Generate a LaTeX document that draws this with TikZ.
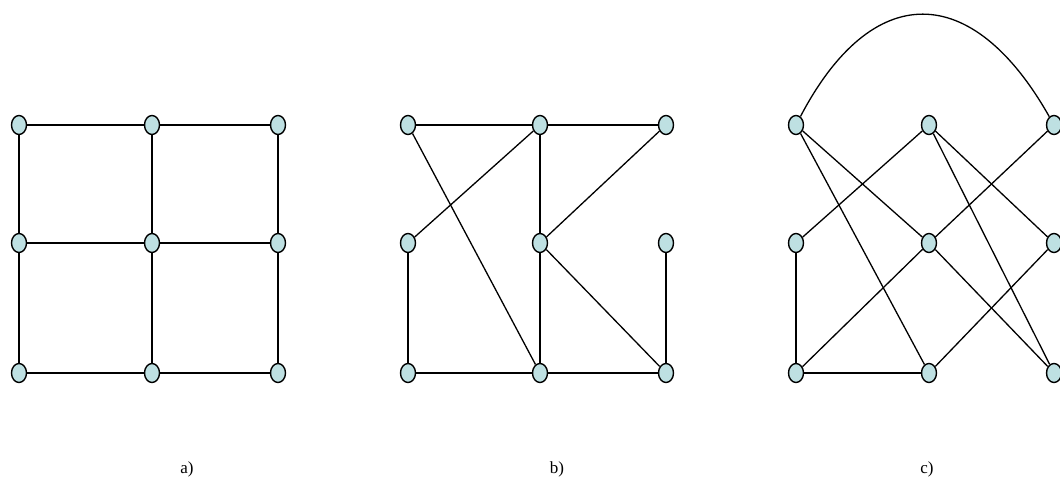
\documentclass[tikz,border=0pt]{standalone}
\usepackage{fontspec}
\setmainfont{Liberation Serif}
\usetikzlibrary{shapes.geometric}
\definecolor{vertexfill}{HTML}{BEE0E2}

\begin{document}
\begin{tikzpicture}[
  x=1pt, y=-1pt,
  vertex/.style={ellipse, draw=black, line width=1.4pt, fill=vertexfill, minimum width=15pt, minimum height=19pt, inner sep=0pt},
  edge/.style={draw=black, line width=1.3pt},
  caption/.style={font=\fontsize{17}{20}\selectfont}
]
  \useasboundingbox (0,0) rectangle (1060,478);

  % ==================== GRAPH a) ====================
  \foreach \r/\y in {t/125, m/243, b/373}{
    \node[vertex] (a\r1) at (19,\y) {};
    \node[vertex] (a\r2) at (152,\y) {};
    \node[vertex] (a\r3) at (278,\y) {};
  }
  \draw[edge] (at1) -- (at2) -- (at3);
  \draw[edge] (am1) -- (am2) -- (am3);
  \draw[edge] (ab1) -- (ab2) -- (ab3);
  \draw[edge] (at1) -- (am1) -- (ab1);
  \draw[edge] (at2) -- (am2) -- (ab2);
  \draw[edge] (at3) -- (am3) -- (ab3);
  \node[caption] (acap) at (187,469) {a)};

  % ==================== GRAPH b) ====================
  \foreach \r/\y in {t/125, m/243, b/373}{
    \node[vertex] (b\r1) at (408,\y) {};
    \node[vertex] (b\r2) at (540,\y) {};
    \node[vertex] (b\r3) at (666,\y) {};
  }
  \draw[edge] (bt1) -- (bt2) -- (bt3);
  \draw[edge] (bt1) -- (bb2);
  \draw[edge] (bt2) -- (bm1);
  \draw[edge] (bt2) -- (bm2) -- (bb2);
  \draw[edge] (bt3) -- (bm2) -- (bb3);
  \draw[edge] (bm3) -- (bb3);
  \draw[edge] (bm1) -- (bb1) -- (bb2) -- (bb3);
  \node[caption] (bcap) at (557,469) {b)};

  % ==================== GRAPH c) ====================
  \foreach \r/\y in {t/125, m/243, b/373}{
    \node[vertex] (c\r1) at (796,\y) {};
    \node[vertex] (c\r2) at (929,\y) {};
    \node[vertex] (c\r3) at (1054,\y) {};
  }
  % arc over the top
  \draw[edge] (ct1) .. controls (872,-20) and (972,-20) .. (ct3);
  \draw[edge] (ct1) -- (cb2);
  \draw[edge] (ct1) -- (cm2) -- (cb3);
  \draw[edge] (ct2) -- (cm1);
  \draw[edge] (ct2) -- (cb3);
  \draw[edge] (ct2) -- (cm3) -- (cb2);
  \draw[edge] (ct3) -- (cm2) -- (cb1);
  \draw[edge] (cm1) -- (cb1) -- (cb2);
  \node[caption] (ccap) at (927,469) {c)};
\end{tikzpicture}
\end{document}
